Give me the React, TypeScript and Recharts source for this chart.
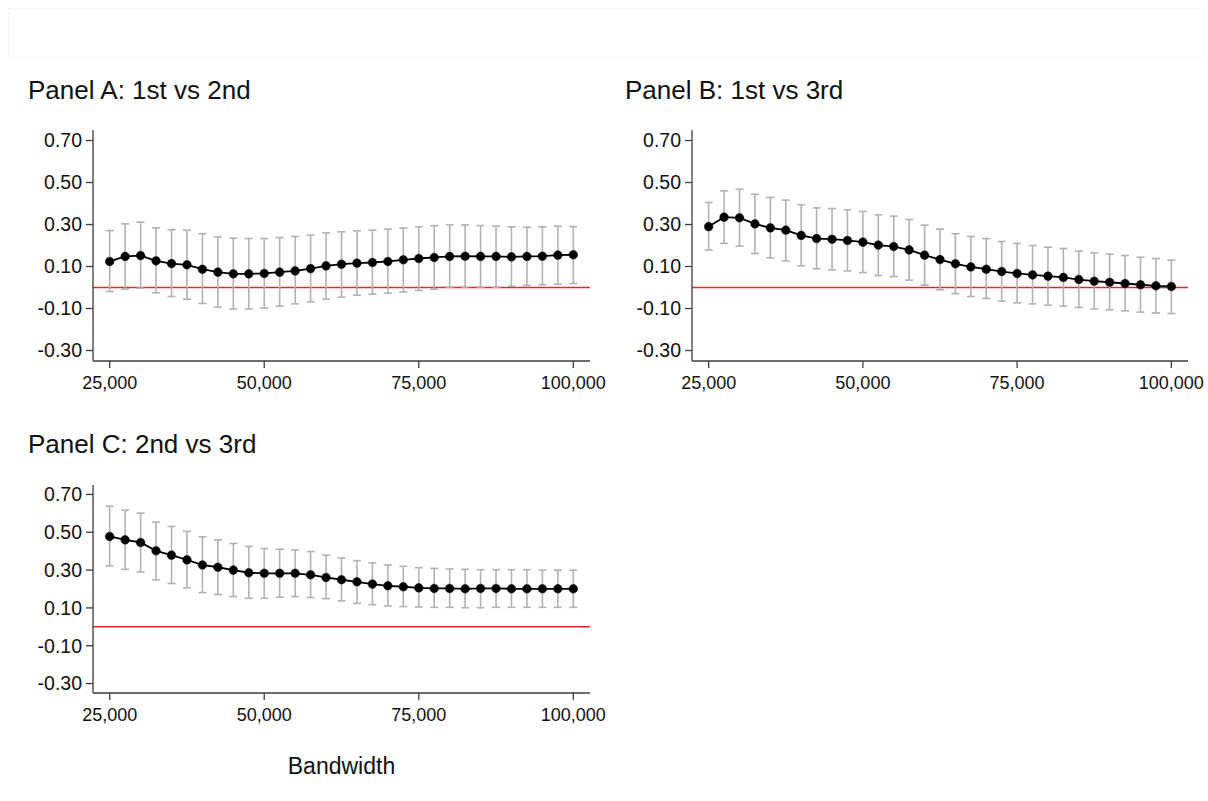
import React from 'react';
import { ComposedChart, Line, XAxis, YAxis, ErrorBar, ReferenceLine } from 'recharts';

const bandwidth = [
  25000, 27500, 30000, 32500, 35000, 37500, 40000, 42500, 45000, 47500, 50000,
  52500, 55000, 57500, 60000, 62500, 65000, 67500, 70000, 72500, 75000,
  77500, 80000, 82500, 85000, 87500, 90000, 92500, 95000, 97500, 100000,
];

// Panel A: 1st vs 2nd
const panelAEstimate = [
  0.124, 0.148, 0.152, 0.127, 0.114, 0.108, 0.087, 0.073, 0.065, 0.065, 0.067,
  0.073, 0.079, 0.090, 0.103, 0.111, 0.116, 0.119, 0.124, 0.132, 0.138,
  0.143, 0.148, 0.149, 0.148, 0.148, 0.146, 0.148, 0.149, 0.154, 0.156,
];
const panelALower = [
  -0.019, -0.008, -0.003, -0.025, -0.043, -0.056, -0.076, -0.094, -0.102, -0.102, -0.098,
  -0.089, -0.078, -0.068, -0.056, -0.046, -0.037, -0.032, -0.027, -0.021, -0.014,
  -0.008, 0.002, 0.002, 0.002, 0.002, 0.006, 0.010, 0.013, 0.016, 0.019,
];
const panelAUpper = [
  0.271, 0.303, 0.311, 0.284, 0.275, 0.273, 0.256, 0.241, 0.235, 0.233, 0.233,
  0.238, 0.243, 0.249, 0.260, 0.265, 0.270, 0.273, 0.278, 0.283, 0.289,
  0.294, 0.298, 0.298, 0.295, 0.292, 0.289, 0.287, 0.289, 0.292, 0.290,
];

// Panel B: 1st vs 3rd
const panelBEstimate = [
  0.290, 0.335, 0.332, 0.303, 0.284, 0.273, 0.248, 0.233, 0.230, 0.224, 0.216,
  0.202, 0.195, 0.179, 0.154, 0.133, 0.113, 0.098, 0.087, 0.076, 0.067,
  0.060, 0.054, 0.048, 0.038, 0.030, 0.025, 0.019, 0.013, 0.008, 0.005,
];
const panelBLower = [
  0.178, 0.210, 0.197, 0.162, 0.141, 0.127, 0.103, 0.089, 0.084, 0.079, 0.071,
  0.057, 0.052, 0.035, 0.011, -0.011, -0.029, -0.043, -0.052, -0.065, -0.073,
  -0.078, -0.084, -0.089, -0.095, -0.102, -0.106, -0.111, -0.117, -0.121, -0.124,
];
const panelBUpper = [
  0.405, 0.460, 0.468, 0.444, 0.429, 0.416, 0.394, 0.379, 0.376, 0.370, 0.362,
  0.346, 0.340, 0.324, 0.297, 0.278, 0.256, 0.243, 0.233, 0.219, 0.210,
  0.200, 0.192, 0.186, 0.173, 0.165, 0.159, 0.152, 0.144, 0.138, 0.130,
];

// Panel C: 2nd vs 3rd
const panelCEstimate = [
  0.478, 0.460, 0.446, 0.402, 0.379, 0.354, 0.327, 0.315, 0.300, 0.286, 0.283,
  0.283, 0.283, 0.275, 0.261, 0.249, 0.238, 0.226, 0.217, 0.212, 0.206,
  0.203, 0.203, 0.201, 0.203, 0.203, 0.201, 0.201, 0.201, 0.201, 0.201,
];
const panelCLower = [
  0.322, 0.304, 0.290, 0.249, 0.229, 0.206, 0.181, 0.171, 0.160, 0.151, 0.151,
  0.157, 0.160, 0.155, 0.149, 0.137, 0.124, 0.117, 0.110, 0.107, 0.105,
  0.103, 0.103, 0.101, 0.101, 0.103, 0.103, 0.103, 0.103, 0.103, 0.103,
];
const panelCUpper = [
  0.638, 0.617, 0.601, 0.554, 0.531, 0.505, 0.476, 0.460, 0.441, 0.425, 0.414,
  0.410, 0.407, 0.398, 0.379, 0.364, 0.350, 0.338, 0.327, 0.320, 0.313,
  0.309, 0.306, 0.304, 0.302, 0.302, 0.302, 0.302, 0.300, 0.300, 0.299,
];

const yTicks = [-0.3, -0.1, 0.1, 0.3, 0.5, 0.7];
const xTicks = [25000, 50000, 75000, 100000];
const yDomain: [number, number] = [-0.35, 0.75];
const xDomain: [number, number] = [22300, 102700];

const panelTitles = ['Panel A: 1st vs 2nd', 'Panel B: 1st vs 3rd', 'Panel C: 2nd vs 3rd'];
const xAxisTitle = 'Bandwidth';

const FONT = '"Liberation Sans", Arial, Helvetica, sans-serif';
const AXIS_COLOR = '#3c3c3c';
const CI_COLOR = '#b2b2b2';
const ZERO_COLOR = '#e8262a';

function buildRows(est: number[], lo: number[], hi: number[]) {
  return bandwidth.map((bw, i) => ({
    bw,
    est: est[i],
    err: [est[i] - lo[i], hi[i] - est[i]],
  }));
}

type PanelProps = {
  rows: { bw: number; est: number; err: number[] }[];
  width: number;
  height: number;
  margin: { top: number; right: number; bottom: number; left: number };
  yAxisWidth: number;
  xAxisHeight: number;
  showXTitle?: boolean;
};

function Panel({ rows, width, height, margin, yAxisWidth, xAxisHeight, showXTitle }: PanelProps) {
  const xTickStyle = { fontSize: 18, fill: '#111', fontFamily: FONT };
  const yTickStyle = { fontSize: 19.5, fill: '#111', fontFamily: FONT };
  return (
    <ComposedChart width={width} height={height} data={rows} margin={margin}>
      <XAxis
        dataKey="bw"
        type="number"
        domain={xDomain}
        ticks={xTicks}
        tickFormatter={(v: number) => v.toLocaleString('en-US')}
        tick={xTickStyle}
        tickSize={7}
        tickMargin={8}
        height={xAxisHeight}
        axisLine={{ stroke: AXIS_COLOR, strokeWidth: 1.3 }}
        tickLine={{ stroke: AXIS_COLOR, strokeWidth: 1.3 }}
        allowDataOverflow
        label={
          showXTitle
            ? { value: xAxisTitle, position: 'insideBottom', offset: 26, fontSize: 23, fill: '#111', fontFamily: FONT }
            : undefined
        }
      />
      <YAxis
        type="number"
        domain={yDomain}
        ticks={yTicks}
        tickFormatter={(v: number) => v.toFixed(2)}
        tick={yTickStyle}
        tickSize={7}
        tickMargin={4}
        width={yAxisWidth}
        axisLine={{ stroke: AXIS_COLOR, strokeWidth: 1.3 }}
        tickLine={{ stroke: AXIS_COLOR, strokeWidth: 1.3 }}
        allowDataOverflow
      />
      <ReferenceLine y={0} stroke={ZERO_COLOR} strokeWidth={1.5} />
      <Line
        dataKey="est"
        stroke="none"
        dot={false}
        activeDot={false}
        isAnimationActive={false}
        legendType="none"
      >
        <ErrorBar dataKey="err" direction="y" width={4} stroke={CI_COLOR} strokeWidth={1.6} />
      </Line>
      <Line
        dataKey="est"
        type="linear"
        stroke="#000"
        strokeWidth={1.8}
        dot={{ r: 4.3, fill: '#000', stroke: '#000', strokeWidth: 0.5 }}
        activeDot={false}
        isAnimationActive={false}
      />
    </ComposedChart>
  );
}

const titleStyle = (left: number, top: number): React.CSSProperties => ({
  position: 'absolute',
  left,
  top,
  fontFamily: FONT,
  fontSize: 26,
  lineHeight: '26px',
  color: '#111',
  whiteSpace: 'nowrap',
});

export default function App() {
  const rowsA = buildRows(panelAEstimate, panelALower, panelAUpper);
  const rowsB = buildRows(panelBEstimate, panelBLower, panelBUpper);
  const rowsC = buildRows(panelCEstimate, panelCLower, panelCUpper);
  return (
    <div
      style={{
        position: 'absolute',
        left: 0,
        top: 0,
        width: 1208,
        height: 801,
        background: '#fff',
        overflow: 'hidden',
      }}
    >
      <div
        style={{
          position: 'absolute',
          left: 8,
          top: 8,
          width: 1194,
          height: 48,
          border: '1px solid #f6f6f6',
        }}
      />
      <div style={titleStyle(28, 77)}>{panelTitles[0]}</div>
      <div style={titleStyle(625, 77)}>{panelTitles[1]}</div>
      <div style={titleStyle(28, 431)}>{panelTitles[2]}</div>

      <div style={{ position: 'absolute', left: 0, top: 120 }}>
        <Panel
          rows={rowsA}
          width={620}
          height={280}
          margin={{ top: 10, right: 30, bottom: 0, left: 0 }}
          yAxisWidth={93}
          xAxisHeight={39}
        />
      </div>
      <div style={{ position: 'absolute', left: 600, top: 120 }}>
        <Panel
          rows={rowsB}
          width={608}
          height={280}
          margin={{ top: 10, right: 20, bottom: 0, left: 0 }}
          yAxisWidth={92}
          xAxisHeight={39}
        />
      </div>
      <div style={{ position: 'absolute', left: 0, top: 470 }}>
        <Panel
          rows={rowsC}
          width={620}
          height={330}
          margin={{ top: 15, right: 30, bottom: 0, left: 0 }}
          yAxisWidth={93}
          xAxisHeight={107}
          showXTitle
        />
      </div>
    </div>
  );
}
